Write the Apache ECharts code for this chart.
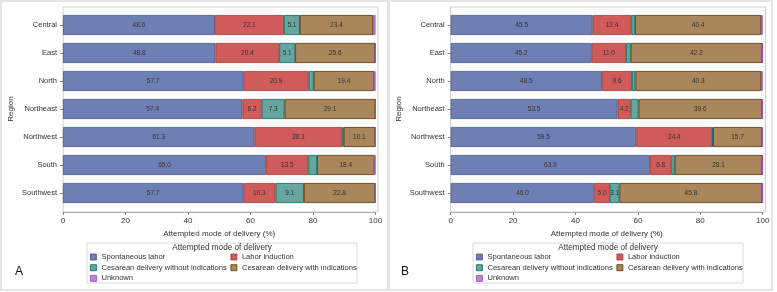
<!DOCTYPE html>
<html>
<head>
<meta charset="utf-8">
<script src="https://cdn.jsdelivr.net/npm/echarts@6/dist/echarts.min.js"></script>
<style>
  html, body { margin: 0; padding: 0; background: #fff; }
  #chart { width: 777px; height: 292px; }
</style>
</head>
<body>
<div id="chart"></div>
<script>
// regions and delivery modes
const regions = ['Central', 'East', 'North', 'Northeast', 'Northwest', 'South', 'Southwest'];
const modes = ['Spontaneous labor', 'Labor induction', 'Cesarean delivery without indications',
    'Cesarean delivery with indications', 'Unknown'];
const xTicks = [0, 20, 40, 60, 80, 100];

// panel A (%)
const aSpontaneous = [48.6, 48.8, 57.7, 57.4, 61.3, 65.0, 57.7];
const aInduction = [22.1, 20.4, 20.9, 6.2, 28.1, 13.5, 10.3];
const aCesNoInd = [5.1, 5.1, 1.6, 7.3, 0.4, 2.8, 9.1];
const aCesInd = [23.4, 25.6, 19.4, 29.1, 10.1, 18.4, 22.8];
const aUnknown = [0.8, 0.1, 0.4, 0.0, 0.1, 0.3, 0.1];

// panel B (%)
const bSpontaneous = [45.5, 45.2, 48.5, 53.5, 59.5, 63.9, 46.0];
const bInduction = [12.4, 11.0, 9.6, 4.2, 24.4, 6.8, 5.0];
const bCesNoInd = [1.2, 1.5, 1.1, 2.5, 0.2, 1.1, 3.1];
const bCesInd = [40.4, 42.2, 40.3, 39.6, 15.7, 28.1, 45.8];
const bUnknown = [0.5, 0.1, 0.5, 0.2, 0.2, 0.1, 0.1];

let fills = ['#6f7eb3', '#d05b5b', '#66a5a0', '#a9865b', '#b689cd'];
let edges = ['#445694', '#a23a2e', '#01665e', '#543005', '#9d3cdb'];
let font = 'Liberation Sans, Arial, sans-serif';

let panels = [
    { data: [aSpontaneous, aInduction, aCesNoInd, aCesInd, aUnknown], left: 63, width: 312.5, frameX: 63, legX: 87, letter: 'A' },
    { data: [bSpontaneous, bInduction, bCesNoInd, bCesInd, bUnknown], left: 450.7, width: 312, frameX: 450.5, legX: 473, letter: 'B' }
];

let grids = [], xAxes = [], yAxes = [], series = [], legends = [], graphics = [];

panels.forEach(function (p, pi) {
    grids.push({ left: p.left, width: p.width, top: 11, height: 196 });
    xAxes.push({
        gridIndex: pi, type: 'value', min: 0, max: 100, interval: 20, offset: 5,
        name: 'Attempted mode of delivery (%)', nameLocation: 'middle', nameGap: 16,
        nameTextStyle: { fontSize: 8, color: '#333', fontFamily: font },
        axisLine: { show: true, lineStyle: { color: '#b0b0b0' } },
        axisTick: { show: true, length: 3, lineStyle: { color: '#888' } },
        axisLabel: { fontSize: 8, color: '#333', margin: 5, fontFamily: font },
        splitLine: { show: false }
    });
    yAxes.push({
        gridIndex: pi, type: 'category', data: regions, inverse: true,
        name: 'Region', nameLocation: 'middle', nameGap: 48,
        nameTextStyle: { fontSize: 8, color: '#333', fontFamily: font },
        axisLine: { show: false },
        axisTick: { show: true, length: 3, alignWithLabel: true, lineStyle: { color: '#888' } },
        axisLabel: { fontSize: 7.5, color: '#333', margin: 6, fontFamily: font }
    });
    p.data.forEach(function (vals, mi) {
        series.push({
            type: 'bar', name: modes[mi], stack: 'p' + pi,
            xAxisIndex: pi, yAxisIndex: pi, barWidth: 20,
            data: vals,
            itemStyle: { color: fills[mi], borderColor: edges[mi], borderWidth: 0.8 },
            label: {
                show: true, position: 'inside', fontSize: 6.5, color: '#333', fontFamily: font,
                formatter: function (d) { return d.value >= 3 ? d.value.toFixed(1) : ''; }
            },
            emphasis: { disabled: true }
        });
    });
    let legBase = {
        orient: 'vertical', top: 252, padding: 0, itemWidth: 6, itemHeight: 6, itemGap: 0.7,
        icon: 'rect', selectedMode: false,
        textStyle: { fontSize: 7.6, color: '#333', lineHeight: 10, fontFamily: font },
        itemStyle: { borderWidth: 0.8 }
    };
    legends.push(Object.assign({}, legBase, { left: p.legX + 3, data: [modes[0], modes[2], modes[4]] }));
    legends.push(Object.assign({}, legBase, { left: p.legX + 143.5, data: [modes[1], modes[3]] }));

    // plot frame
    graphics.push({ type: 'rect', z: -1, shape: { x: p.frameX, y: 7, width: 315, height: 205 },
        style: { fill: 'none', stroke: '#cfcfcf', lineWidth: 1 } });
    // legend box + title
    graphics.push({ type: 'rect', shape: { x: p.legX, y: 243, width: 270, height: 40 },
        style: { fill: 'none', stroke: '#d8d8d8', lineWidth: 1 } });
    graphics.push({ type: 'text', x: p.legX + 135, y: 247.5,
        style: { text: 'Attempted mode of delivery', fontSize: 8.2, fill: '#333', fontFamily: font,
            textAlign: 'center', textVerticalAlign: 'middle' } });
    // panel letter
    graphics.push({ type: 'text', x: p.legX - 68, y: 272,
        style: { text: p.letter, fontSize: 12, fill: '#111', fontFamily: font,
            textAlign: 'center', textVerticalAlign: 'middle' } });
});

// outer panel borders
graphics.push({ type: 'rect', shape: { x: 1, y: 1, width: 387, height: 289 },
    style: { fill: 'none', stroke: '#e4e4e4', lineWidth: 2 } });
graphics.push({ type: 'rect', shape: { x: 389, y: 1, width: 383, height: 289 },
    style: { fill: 'none', stroke: '#e4e4e4', lineWidth: 2 } });

let myChart = echarts.init(document.getElementById('chart'));
let option = {
    backgroundColor: '#fff',
    animation: false,
    grid: grids,
    xAxis: xAxes,
    yAxis: yAxes,
    legend: legends,
    series: series,
    graphic: graphics
};
myChart.setOption(option);
</script>
</body>
</html>
